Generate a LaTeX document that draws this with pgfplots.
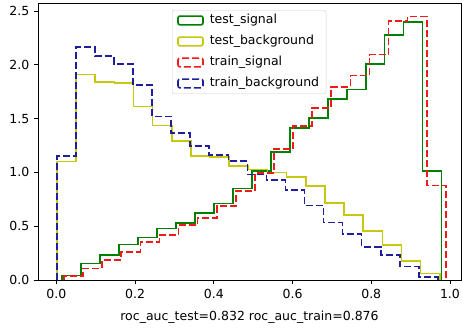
\documentclass[border=0pt]{standalone}
\usepackage{fontspec}
\setmainfont{DejaVu Sans}
\usepackage{pgfplots}
\pgfplotsset{compat=1.18}
\definecolor{mplgreen}{rgb}{0,0.5,0}
\definecolor{mplyellow}{rgb}{0.78,0.78,0.05}
\definecolor{mplred}{rgb}{0.95,0.1,0.1}
\definecolor{mplblue}{rgb}{0.12,0.12,0.62}
\begin{document}
\fontsize{12.5}{15}\selectfont
\begin{tikzpicture}
\begin{axis}[
  scale only axis, width=423pt, height=277pt,
  xmin=-0.0466, xmax=1.028, ymin=0, ymax=2.575,
  xtick={0,0.2,0.4,0.6,0.8,1.0}, ytick={0,0.5,1,1.5,2,2.5},
  xtick pos=bottom, ytick pos=left, tick align=outside,
  major tick length=4.4pt,
  tick style={black, line width=0.9pt},
  axis line style={line width=0.9pt},
  /pgf/number format/fixed, /pgf/number format/fixed zerofill,
  /pgf/number format/precision=1, /pgf/number format/assume math mode=true,
  xlabel={roc\_auc\_test=0.832 roc\_auc\_train=0.876},
  xlabel style={yshift=-4pt},
  legend style={at={(0.3168,0.9747)}, anchor=north west, draw=black!20,
    rounded corners=2pt, fill=white, fill opacity=0.8, text opacity=1,
    inner xsep=5pt, inner ysep=2pt, row sep=4.5pt,
    nodes={inner sep=2pt, text height=9.5pt, text depth=3pt},
    /tikz/every odd column/.append style={column sep=4pt}},
  legend cell align=left,
  legend image code/.code={\draw (0pt,-4.4pt) rectangle (25pt,4.4pt);},
]
\addplot[const plot, line width=1.6pt, draw=mplgreen] coordinates {(0.0147,0) (0.0147,0.043) (0.0629,0.155) (0.1111,0.232) (0.1593,0.331) (0.2075,0.396) (0.2557,0.479) (0.3039,0.532) (0.3521,0.625) (0.4003,0.711) (0.4485,0.851) (0.4967,1.014) (0.5449,1.19) (0.5931,1.413) (0.6413,1.506) (0.6895,1.685) (0.7377,1.772) (0.7859,2.01) (0.8341,2.28) (0.8823,2.40) (0.9305,1.011) (0.9787,1.011) (0.9787,0)};
\addlegendentry{test\_signal}
\addplot[const plot, line width=1.6pt, draw=mplyellow] coordinates {(0.0015,0) (0.0015,1.10) (0.0501,1.91) (0.0988,1.84) (0.1474,1.83) (0.1960,1.614) (0.2447,1.438) (0.2933,1.29) (0.3419,1.153) (0.3905,1.144) (0.4392,1.06) (0.4878,1.027) (0.5364,1.00) (0.5851,0.958) (0.6337,0.872) (0.6823,0.714) (0.7310,0.606) (0.7796,0.455) (0.8282,0.325) (0.8768,0.176) (0.9255,0.06) (0.9741,0.06) (0.9741,0)};
\addlegendentry{test\_background}
\addplot[const plot, line width=1.6pt, draw=mplred, dash pattern=on 7pt off 3pt] coordinates {(0.0194,0) (0.0194,0.037) (0.0679,0.108) (0.1164,0.186) (0.1649,0.263) (0.2134,0.356) (0.2619,0.417) (0.3104,0.51) (0.3589,0.578) (0.4074,0.686) (0.4559,0.828) (0.5044,0.995) (0.5529,1.215) (0.6014,1.43) (0.6499,1.60) (0.6984,1.793) (0.7469,1.90) (0.7954,2.096) (0.8439,2.41) (0.8924,2.45) (0.9409,0.88) (0.9894,0.88) (0.9894,0)};
\addlegendentry{train\_signal}
\addplot[const plot, line width=1.6pt, draw=mplblue, dash pattern=on 7pt off 3pt] coordinates {(0.0015,0) (0.0015,1.153) (0.0499,2.165) (0.0983,2.08) (0.1466,2.01) (0.1950,1.81) (0.2434,1.52) (0.2918,1.367) (0.3402,1.246) (0.3885,1.16) (0.4369,1.105) (0.4853,0.98) (0.5337,0.928) (0.5821,0.835) (0.6304,0.693) (0.6788,0.533) (0.7272,0.425) (0.7756,0.309) (0.8240,0.235) (0.8723,0.124) (0.9207,0.028) (0.9691,0.028) (0.9691,0)};
\addlegendentry{train\_background}
\end{axis}
\pgfresetboundingbox
\useasboundingbox ([shift={(-38pt,-48pt)}]current axis.south west) rectangle ([shift={(1pt,3pt)}]current axis.north east);
\end{tikzpicture}
\end{document}
